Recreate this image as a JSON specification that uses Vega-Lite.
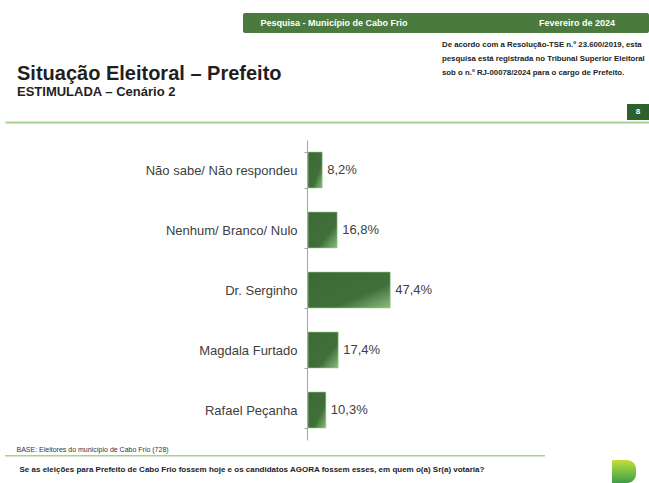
{
  "$schema": "https://vega.github.io/schema/vega-lite/v6.json",
  "background": "white",
  "autosize": {"type": "pad"},
  "padding": {"left": 5, "top": 13, "right": 0, "bottom": 0},
  "bounds": "flush",
  "spacing": 107,
  "config": {
    "font": "Liberation Sans",
    "view": {"stroke": null},
    "locale": {"number": {"decimal": ",", "thousands": ".", "grouping": [3], "currency": ["R$", ""]}}
  },
  "vconcat": [
    {
      "width": 644,
      "height": 20,
      "title": {
        "text": ["De acordo com a Resolução-TSE n.º 23.600/2019, esta", "pesquisa está registrada no Tribunal Superior Eleitoral", "sob o n.º RJ-00078/2024 para o cargo de Prefeito."],
        "orient": "bottom",
        "anchor": "start",
        "frame": "group",
        "dx": 437,
        "offset": -442,
        "fontSize": 7.8,
        "fontWeight": "bold",
        "color": "#222222",
        "lineHeight": 14
      },
      "layer": [
        {
          "data": {"values": [{"part": "banner"}]},
          "mark": {"type": "rect", "color": "#4a7a3e", "cornerRadius": 2},
          "encoding": {
            "x": {"field": "part", "type": "nominal", "scale": {"type": "band", "range": [238, 644], "paddingInner": 0, "paddingOuter": 0}, "axis": null}
          }
        },
        {
          "data": {"values": [{"slot": "left", "label": "Pesquisa - Município de Cabo Frio"}, {"slot": "right", "label": "Fevereiro de 2024"}]},
          "mark": {"type": "text", "color": "white", "fontSize": 9, "fontWeight": "bold", "align": "center", "baseline": "middle"},
          "encoding": {
            "x": {"field": "slot", "type": "nominal", "scale": {"type": "point", "range": [329, 572], "padding": 0}, "axis": null},
            "text": {"field": "label"}
          }
        },
        {
          "data": {"values": [{"page": "8"}]},
          "mark": {"type": "rect", "color": "#2f5f2a"},
          "encoding": {
            "x": {"field": "page", "type": "nominal", "scale": {"type": "band", "range": [622, 644], "paddingInner": 0, "paddingOuter": 0}, "axis": null},
            "y": {"field": "page", "type": "nominal", "scale": {"type": "band", "range": [91, 107], "paddingInner": 0, "paddingOuter": 0}, "axis": null}
          }
        },
        {
          "data": {"values": [{"page": "8"}]},
          "mark": {"type": "text", "color": "white", "fontSize": 8, "fontWeight": "bold", "align": "center", "baseline": "middle"},
          "encoding": {
            "x": {"field": "page", "type": "nominal", "scale": {"type": "band", "range": [622, 644], "paddingInner": 0, "paddingOuter": 0}, "axis": null},
            "y": {"field": "page", "type": "nominal", "scale": {"type": "band", "range": [91, 107], "paddingInner": 0, "paddingOuter": 0}, "axis": null},
            "text": {"field": "page"}
          }
        },
        {
          "data": {"values": [{"line": "footer"}]},
          "mark": {"type": "rect", "color": "#a9d18e"},
          "encoding": {
            "x": {"field": "line", "type": "nominal", "scale": {"type": "band", "range": [0, 540], "paddingInner": 0, "paddingOuter": 0}, "axis": null},
            "y": {"field": "line", "type": "nominal", "scale": {"type": "band", "range": [442, 443.5], "paddingInner": 0, "paddingOuter": 0}, "axis": null}
          }
        },
        {
          "data": {"values": [{"logo": "logo"}]},
          "mark": {
            "type": "rect",
            "color": {"gradient": "linear", "x1": 0, "y1": 0, "x2": 0, "y2": 1, "stops": [{"offset": 0, "color": "#c3dc3c"}, {"offset": 0.5, "color": "#7cc242"}, {"offset": 1, "color": "#3f9a45"}]},
            "cornerRadiusTopRight": 9,
            "cornerRadiusBottomRight": 9
          },
          "encoding": {
            "x": {"field": "logo", "type": "nominal", "scale": {"type": "band", "range": [607, 631], "paddingInner": 0, "paddingOuter": 0}, "axis": null},
            "y": {"field": "logo", "type": "nominal", "scale": {"type": "band", "range": [447, 470], "paddingInner": 0, "paddingOuter": 0}, "axis": null}
          }
        }
      ],
      "resolve": {"scale": {"x": "independent", "y": "independent"}}
    },
    {
      "width": 644,
      "height": 300,
      "title": {
        "text": "Situação Eleitoral – Prefeito",
        "subtitle": "ESTIMULADA – Cenário 2",
        "anchor": "start",
        "frame": "group",
        "dx": 12,
        "offset": 23,
        "fontSize": 20,
        "fontWeight": "bold",
        "color": "#1f1f1f",
        "subtitleFontSize": 13,
        "subtitleFontWeight": "bold",
        "subtitleColor": "#1f1f1f",
        "subtitlePadding": 2
      },
      "data": {
        "values": [
          {"name": "Não sabe/ Não respondeu", "pct": 0.082},
          {"name": "Nenhum/ Branco/ Nulo", "pct": 0.168},
          {"name": "Dr. Serginho", "pct": 0.474},
          {"name": "Magdala Furtado", "pct": 0.174},
          {"name": "Rafael Peçanha", "pct": 0.103}
        ]
      },
      "encoding": {
        "y": {
          "field": "name",
          "type": "nominal",
          "sort": null,
          "scale": {"paddingInner": 0.4, "paddingOuter": 0.2},
          "axis": {
            "offset": -302,
            "title": "BASE: Eleitores do município de Cabo Frio (728)",
            "titleAngle": 0,
            "titleAlign": "left",
            "titleBaseline": "alphabetic",
            "titleX": -291,
            "titleY": 311,
            "titleFontSize": 7,
            "titleFontWeight": "normal",
            "titleColor": "#333333",
            "labelFontSize": 13,
            "labelColor": "#404040",
            "labelPadding": 7,
            "labelLimit": 300,
            "tickBand": "extent",
            "tickSize": 3,
            "tickColor": "#a6a6a6",
            "domainColor": "#a6a6a6"
          }
        }
      },
      "layer": [
        {
          "mark": {
            "type": "bar",
            "color": {"gradient": "linear", "x1": 0, "y1": 0, "x2": 1, "y2": 1, "stops": [{"offset": 0, "color": "#3c6a34"}, {"offset": 0.65, "color": "#40703a"}, {"offset": 1, "color": "#8cbd7d"}]},
            "stroke": "#a6cf96",
            "strokeWidth": 0.6
          },
          "encoding": {
            "x": {
              "field": "pct",
              "type": "quantitative",
              "scale": {"domain": [-1.7464, 1.9654], "nice": false},
              "axis": {"orient": "top", "offset": 18, "labels": false, "ticks": false, "grid": false, "title": null, "domainColor": "#a9d18e", "domainWidth": 2}
            },
            "x2": {"datum": 0}
          }
        },
        {
          "mark": {"type": "text", "align": "left", "baseline": "middle", "dx": 5, "fontSize": 13, "color": "#404040"},
          "encoding": {
            "x": {
              "field": "pct",
              "type": "quantitative",
              "scale": {"domain": [-1.7464, 1.9654], "nice": false},
              "axis": {
                "orient": "bottom",
                "offset": 16,
                "labels": false,
                "ticks": false,
                "grid": false,
                "domain": false,
                "title": "Se as eleições para Prefeito de Cabo Frio fossem hoje e os candidatos AGORA fossem esses, em quem o(a) Sr(a) votaria?",
                "titleX": 14,
                "titleY": 15,
                "titleAlign": "left",
                "titleBaseline": "alphabetic",
                "titleFontSize": 8,
                "titleFontWeight": "bold",
                "titleColor": "#222222"
              }
            },
            "text": {"field": "pct", "type": "quantitative", "format": ".1%"}
          }
        }
      ],
      "resolve": {"axis": {"x": "independent"}}
    }
  ]
}
